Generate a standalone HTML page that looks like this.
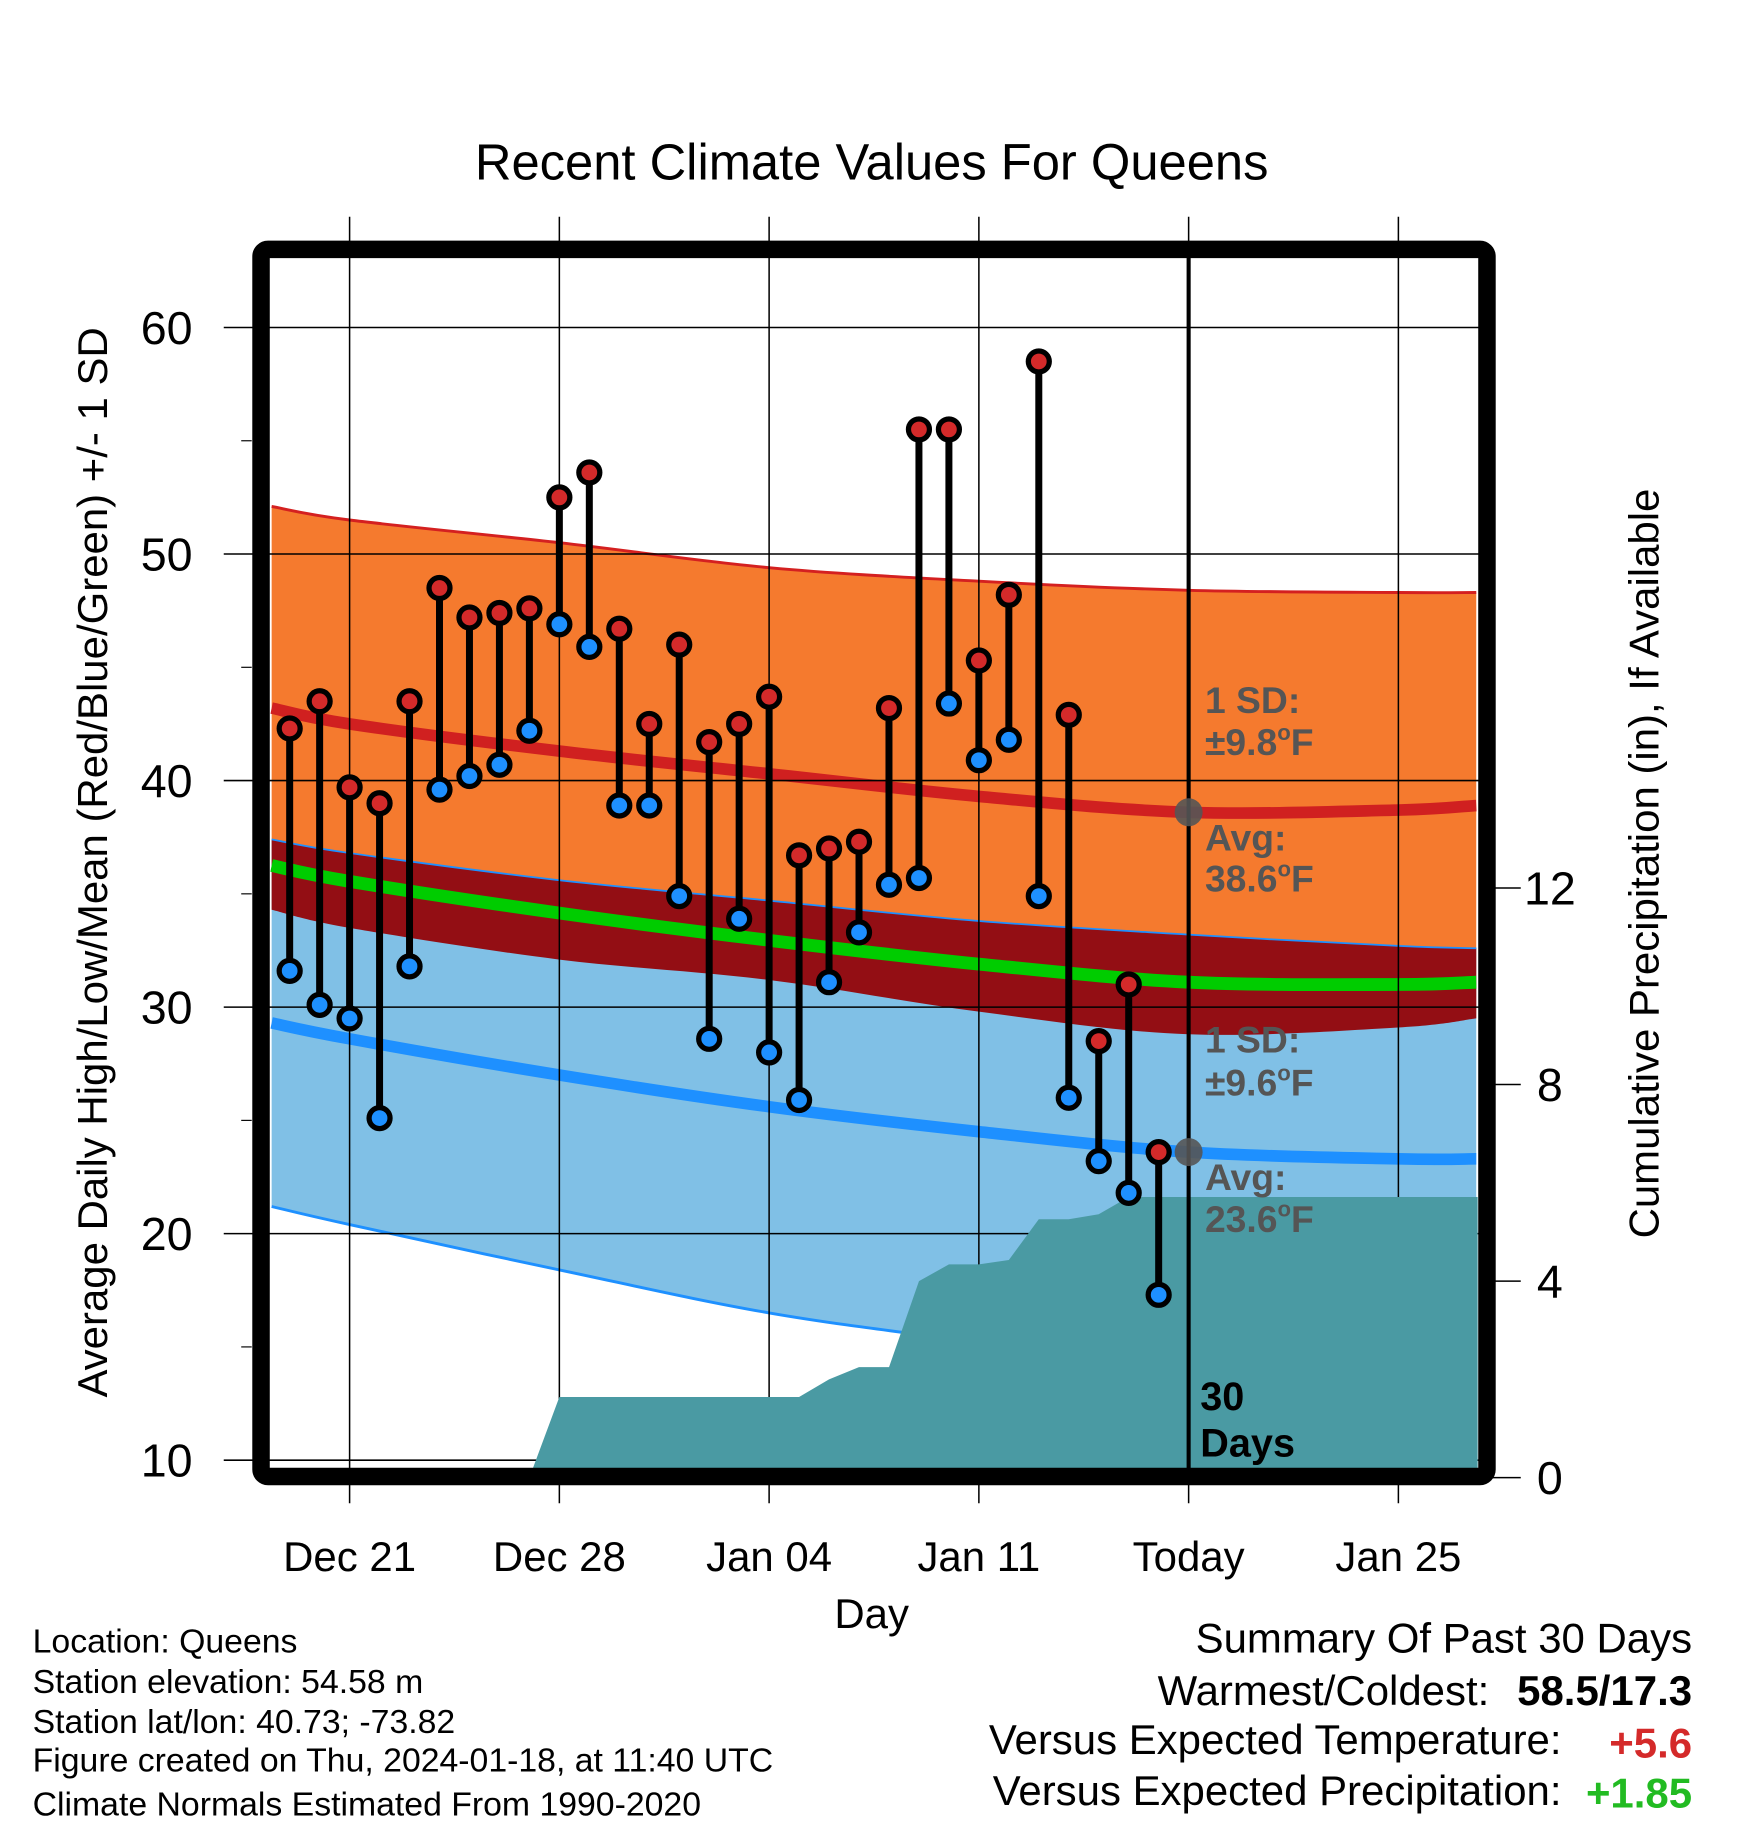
<!DOCTYPE html>
<html><head><meta charset="utf-8"><style>
html,body{margin:0;padding:0;background:#fff}
svg{display:block}
text{font-family:"Liberation Sans",Arial,sans-serif}
</style></head><body>
<svg id="chart" width="1748" height="1828" viewBox="0 0 1500 1568.6" xmlns="http://www.w3.org/2000/svg">
<defs><clipPath id="plotclip"><rect x="224" y="214" width="1052" height="1053"/></clipPath></defs>
<rect width="1500" height="1569" fill="#fff"/>
<g id="plot" clip-path="url(#plotclip)"></g>
<g id="over"></g>
</svg>
<script>
// ---- data ----
const tickDays = [0, 7, 14, 21, 28, 35];
const tickLabels = ["Dec 21", "Dec 28", "Jan 04", "Jan 11", "Today", "Jan 25"];
const yTicks = [10, 20, 30, 40, 50, 60];
const pTicks = [0, 4, 8, 12];
const obsDays = [-2,-1,0,1,2,3,4,5,6,7,8,9,10,11,12,13,14,15,16,17,18,19,20,21,22,23,24,25,26,27];
const highs = [42.3,43.5,39.7,39.0,43.5,48.5,47.2,47.4,47.6,52.5,53.6,46.7,42.5,46.0,41.7,42.5,43.7,36.7,37.0,37.3,43.2,55.5,55.5,45.3,48.2,58.5,42.9,28.5,31.0,23.6];
const lows = [31.6,30.1,29.5,25.1,31.8,39.6,40.2,40.7,42.2,46.9,45.9,38.9,38.9,34.9,28.6,33.9,28.0,25.9,31.1,33.3,35.4,35.7,43.4,40.9,41.8,34.9,26.0,23.2,21.8,17.3];
const precip = [0,0,0,0,0,0,0,0,0,1.64,1.64,1.64,1.64,1.64,1.64,1.64,1.64,1.64,2.0,2.25,2.25,4.0,4.34,4.34,4.43,5.26,5.26,5.36,5.71,5.71];
const normDays = [-2.6,0,7,14,21,28,35,37.6];
const normHigh = [43.2,42.5,41.3,40.3,39.3,38.6,38.7,38.9];
const highSD = [8.9,9.0,9.2,9.1,9.5,9.8,9.6,9.4];
const normLow = [29.3,28.6,27.0,25.6,24.5,23.6,23.3,23.3];
const lowSD = [8.1,8.2,8.6,9.1,9.3,9.6,9.4,9.3];
const todayDay = 28;
// ---- scales ----
const X = d => 300 + d * 25.714;
const Y = t => 281 + (60 - t) * 19.44;
const YP = p => 1268 - p * 42.17;
const NS = "http://www.w3.org/2000/svg";
const plot = document.getElementById('plot');
const over = document.getElementById('over');
function mk(tag, attrs, parent) {
  const e = document.createElementNS(NS, tag);
  for (const k in attrs) e.setAttribute(k, attrs[k]);
  parent.appendChild(e);
  return e;
}
function pts(arr) { return arr.map(p => p[0].toFixed(1) + ',' + p[1].toFixed(1)).join(' '); }
function smooth(p, start) {
  let d = (start ? 'M' : 'L') + p[0][0].toFixed(1) + ',' + p[0][1].toFixed(1);
  for (let i = 0; i < p.length - 1; i++) {
    const p0 = p[Math.max(0, i - 1)], p1 = p[i], p2 = p[i + 1], p3 = p[Math.min(p.length - 1, i + 2)];
    const c1 = [p1[0] + (p2[0] - p0[0]) / 6, p1[1] + (p2[1] - p0[1]) / 6];
    const c2 = [p2[0] - (p3[0] - p1[0]) / 6, p2[1] - (p3[1] - p1[1]) / 6];
    d += 'C' + c1[0].toFixed(1) + ',' + c1[1].toFixed(1) + ' ' + c2[0].toFixed(1) + ',' + c2[1].toFixed(1) + ' ' + p2[0].toFixed(1) + ',' + p2[1].toFixed(1);
  }
  return d;
}
function band(top, bot) { return smooth(top, true) + smooth(bot.slice().reverse(), false) + 'Z'; }
const hiTop = normDays.map((d,i) => [X(d), Y(normHigh[i] + highSD[i])]);
const hiBot = normDays.map((d,i) => [X(d), Y(normHigh[i] - highSD[i])]);
const loTop = normDays.map((d,i) => [X(d), Y(normLow[i] + lowSD[i])]);
const loBot = normDays.map((d,i) => [X(d), Y(normLow[i] - lowSD[i])]);
const hiLine = normDays.map((d,i) => [X(d), Y(normHigh[i])]);
const loLine = normDays.map((d,i) => [X(d), Y(normLow[i])]);
const meanLine = normDays.map((d,i) => [X(d), Y((normHigh[i] + normLow[i]) / 2)]);

let e;
e = mk('path', {d: band(hiTop, hiBot), fill: '#f57a2e'}, plot);


e = mk('path', {d: band(loTop, loBot), fill: '#80c0e6'}, plot);


e = mk('path', {d: band(loTop, hiBot), fill: '#930e14'}, plot);


e = mk('path', {d: smooth(hiTop, true), fill: 'none', stroke: '#d42020', 'stroke-width': 2.5}, plot);


e = mk('path', {d: smooth(loTop, true), fill: 'none', stroke: '#1e90ff', 'stroke-width': 1.5}, plot);


e = mk('path', {d: smooth(loBot, true), fill: 'none', stroke: '#1e90ff', 'stroke-width': 2.5}, plot);


e = mk('path', {d: smooth(hiLine, true), fill: 'none', stroke: '#d02020', 'stroke-width': 10}, plot);


e = mk('path', {d: smooth(loLine, true), fill: 'none', stroke: '#1e90ff', 'stroke-width': 10}, plot);


e = mk('path', {d: smooth(meanLine, true), fill: 'none', stroke: '#00cc00', 'stroke-width': 11}, plot);



// grid
yTicks.forEach(t => {
  const g = mk('line', {x1: 192, x2: 1276, y1: Y(t), y2: Y(t), stroke: '#000', 'stroke-width': 1.3}, over);
  
  
});
for (let t = 15; t <= 55; t += 10) {
  const g = mk('line', {x1: 207, x2: 216, y1: Y(t), y2: Y(t), stroke: '#000', 'stroke-width': 1}, over);
  
  
}
tickDays.forEach(d => {
  const g = mk('line', {x1: X(d), x2: X(d), y1: 186, y2: 1290, stroke: '#000', 'stroke-width': 1.3}, over);
  
  
});

// precip area
const pp = [[X(obsDays[0]), YP(0)]];
obsDays.forEach((d,i) => pp.push([X(d), YP(precip[i])]));
pp.push([1268, YP(precip[precip.length-1])]);
pp.push([1268, YP(0) + 5]);
pp.push([X(obsDays[0]), YP(0) + 5]);
e = mk('polygon', {points: pts(pp), fill: '#4a9aa3'}, over);


// today line
e = mk('line', {x1: X(todayDay), x2: X(todayDay), y1: 220, y2: 1262, stroke: '#000', 'stroke-width': 3.5}, over);



// observations
obsDays.forEach((d,i) => {
  const s = mk('line', {x1: X(d), x2: X(d), y1: Y(highs[i]), y2: Y(lows[i]), stroke: '#000', 'stroke-width': 6}, over);
  
  
});
obsDays.forEach((d,i) => {
  const h = mk('circle', {cx: X(d), cy: Y(highs[i]), r: 9, fill: '#d42a2a', stroke: '#000', 'stroke-width': 4.5}, over);
  
  
  const l = mk('circle', {cx: X(d), cy: Y(lows[i]), r: 9, fill: '#1e90ff', stroke: '#000', 'stroke-width': 4.5}, over);
  
  
});
// today dots
const ti = normDays.indexOf(todayDay);
e = mk('circle', {cx: X(todayDay), cy: Y(normHigh[ti]), r: 12, fill: '#555', 'fill-opacity': 0.9}, over);


e = mk('circle', {cx: X(todayDay), cy: Y(normLow[ti]), r: 12, fill: '#555', 'fill-opacity': 0.9}, over);



// annotations
function txt(x, y, s, attrs, name, parent) {
  const t = mk('text', Object.assign({x: x, y: y}, attrs), parent || over);
  t.innerHTML = s;
  
  
  return t;
}
const ann = {'font-size': 32, 'font-weight': 'bold', fill: '#555'};
const deg = '<tspan dy="-13" font-size="19">o</tspan><tspan dy="13">F</tspan>';
txt(1034, 612, '1 SD:', ann, 'high-sd-label');
txt(1034, 648, '±' + highSD[ti].toFixed(1) + deg, ann, 'high-sd-value');
txt(1034, 730, 'Avg:', ann, 'avg-high-label');
txt(1034, 765, normHigh[ti].toFixed(1) + deg, ann, 'avg-high-value');
txt(1034, 903, '1 SD:', ann, 'low-sd-label');
txt(1034, 940, '±' + lowSD[ti].toFixed(1) + deg, ann, 'low-sd-value');
txt(1034, 1021, 'Avg:', ann, 'avg-low-label');
txt(1034, 1057, normLow[ti].toFixed(1) + deg, ann, 'avg-low-value');
const ann2 = {'font-size': 34, 'font-weight': 'bold', fill: '#000'};
txt(1030, 1210, '30', ann2, 'days-count-label');
txt(1030, 1250, 'Days', ann2, 'days-label');

// frame
e = mk('rect', {x: 224, y: 214, width: 1052, height: 1053, rx: 6, fill: 'none', stroke: '#000', 'stroke-width': 15}, over);



// right ticks
pTicks.forEach(p => {
  const t = mk('line', {x1: 1276, x2: 1305, y1: YP(p), y2: YP(p), stroke: '#000', 'stroke-width': 1.3}, over);
  
  
  txt(1330, YP(p) + 14, String(p), {'font-size': 40, 'text-anchor': 'middle'}, 'precip-tick-label');
});
yTicks.forEach(t => txt(143, Y(t) + 14, String(t), {'font-size': 40, 'text-anchor': 'middle'}, 'y-tick-label'));
tickDays.forEach((d,i) => txt(X(d), 1348, tickLabels[i], {'font-size': 36, 'text-anchor': 'middle'}, 'x-tick-label'));
</script>
<svg style="position:absolute;left:0;top:0" width="1748" height="1828" viewBox="0 0 1500 1568.6" xmlns="http://www.w3.org/2000/svg">
<text x="748" y="154" font-size="43.5" text-anchor="middle">Recent Climate Values For Queens</text>
<text x="0" y="0" font-size="36" text-anchor="middle" transform="translate(92,740) rotate(-90)">Average Daily High/Low/Mean (Red/Blue/Green) +/- 1 SD</text>
<text x="0" y="0" font-size="36" text-anchor="middle" transform="translate(1423,741) rotate(-90)">Cumulative Precipitation (in), If Available</text>
<text x="748" y="1397" font-size="36" text-anchor="middle">Day</text>
<g font-size="29">
<text x="28" y="1418">Location: Queens</text>
<text x="28" y="1453">Station elevation: 54.58 m</text>
<text x="28" y="1487">Station lat/lon: 40.73; -73.82</text>
<text x="28" y="1520">Figure created on Thu, 2024-01-18, at 11:40 UTC</text>
<text x="28" y="1558">Climate Normals Estimated From 1990-2020</text>
</g>
<g font-size="36">
<text x="1452" y="1418" text-anchor="end">Summary Of Past 30 Days</text>
<text x="1278" y="1463" text-anchor="end">Warmest/Coldest:</text>
<text x="1452" y="1463" text-anchor="end" font-weight="bold">58.5/17.3</text>
<text x="1340" y="1505" text-anchor="end">Versus Expected Temperature:</text>
<text x="1452" y="1508" text-anchor="end" font-weight="bold" fill="#d42a2a">+5.6</text>
<text x="1340" y="1549" text-anchor="end">Versus Expected Precipitation:</text>
<text x="1452" y="1551" text-anchor="end" font-weight="bold" fill="#22bb22">+1.85</text>
</g>
</svg>
</body></html>
